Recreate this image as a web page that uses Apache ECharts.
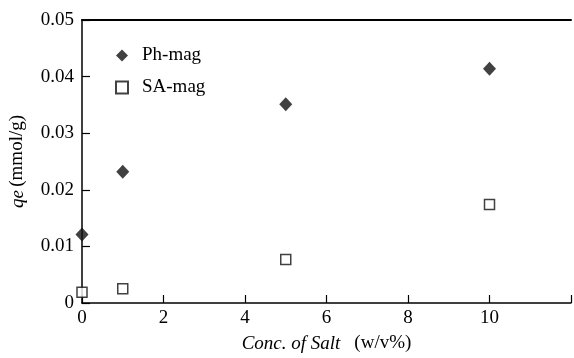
<!DOCTYPE html>
<html>
<head>
<meta charset="utf-8">
<script src="https://cdn.jsdelivr.net/npm/echarts@6/dist/echarts.min.js"></script>
<style>
html, body { margin: 0; padding: 0; background: #fff; }
#chart { width: 574px; height: 358px; }
</style>
</head>
<body>
<div id="chart"></div>
<script>
// salt concentration (w/v%)
var conc = [0, 1, 5, 10];
// qe (mmol/g)
var phMag = [0.0121, 0.0232, 0.0351, 0.0414];
var saMag = [0.0019, 0.0025, 0.0077, 0.0174];

var font = 'Liberation Serif';
var ink = '#000';

function pairs(xs, ys) {
    var out = [];
    for (var i = 0; i < xs.length; i++) {
        out.push([xs[i], ys[i]]);
    }
    return out;
}

var chart = echarts.init(document.getElementById('chart'), null, { renderer: 'canvas' });

var option = {
    backgroundColor: '#fff',
    animation: false,
    grid: {
        left: 82,
        right: 0,
        top: 20,
        bottom: 52
    },
    legend: {
        orient: 'vertical',
        left: 110,
        top: 41,
        itemWidth: 12,
        itemHeight: 12,
        itemGap: 13,
        textStyle: { fontFamily: font, fontSize: 19, color: ink, padding: [0, 0, 0, 9] },
        data: [
            { name: 'Ph-mag', icon: 'diamond' },
            { name: 'SA-mag', icon: 'rect' }
        ]
    },
    xAxis: [
        {
            type: 'value',
            min: 0,
            max: 12,
            interval: 2,
            name: '{i|Conc. of Salt}{n|(w/v%)}',
            nameLocation: 'middle',
            nameGap: 31,
            nameTextStyle: {
                rich: {
                    i: { fontFamily: font, fontSize: 19, fontStyle: 'italic', color: ink },
                    n: { fontFamily: font, fontSize: 19, color: ink, padding: [0, 0, 0, 14] }
                }
            },
            axisLine: { lineStyle: { color: ink, width: 1.5 } },
            axisTick: { inside: true, length: 8, lineStyle: { color: ink, width: 1.2 } },
            axisLabel: {
                fontFamily: font,
                fontSize: 19,
                color: ink,
                margin: 6,
                formatter: function (v) { return v > 10 ? '' : String(v); }
            },
            splitLine: { show: false }
        },
        {
            type: 'value',
            position: 'top',
            min: 0,
            max: 12,
            axisLine: { show: true, onZero: false, lineStyle: { color: ink, width: 2 } },
            axisTick: { show: false },
            axisLabel: { show: false },
            splitLine: { show: false }
        }
    ],
    yAxis: {
        type: 'value',
        min: 0,
        max: 0.05,
        interval: 0.01,
        name: '{i|qe} {n|(mmol/g)}',
        nameLocation: 'middle',
        nameGap: 55,
        nameTextStyle: {
            rich: {
                i: { fontFamily: font, fontSize: 19, fontStyle: 'italic', color: ink },
                n: { fontFamily: font, fontSize: 19, color: ink }
            }
        },
        axisLine: { show: true, lineStyle: { color: ink, width: 1.5 } },
        axisTick: { show: true, inside: true, length: 8, lineStyle: { color: ink, width: 1.2 } },
        axisLabel: {
            fontFamily: font,
            fontSize: 19,
            color: ink,
            margin: 8,
            formatter: function (v) { return v === 0 ? '0' : v.toFixed(2); }
        },
        splitLine: { show: false }
    },
    series: [
        {
            name: 'Ph-mag',
            type: 'scatter',
            symbol: 'diamond',
            symbolSize: [13, 14],
            itemStyle: { color: '#111' },
            data: pairs(conc, phMag)
        },
        {
            name: 'SA-mag',
            type: 'scatter',
            symbol: 'rect',
            symbolSize: 10,
            itemStyle: { color: '#fff', borderColor: '#111', borderWidth: 1.5 },
            data: pairs(conc, saMag)
        }
    ]
};

chart.setOption(option);
</script>
</body>
</html>
